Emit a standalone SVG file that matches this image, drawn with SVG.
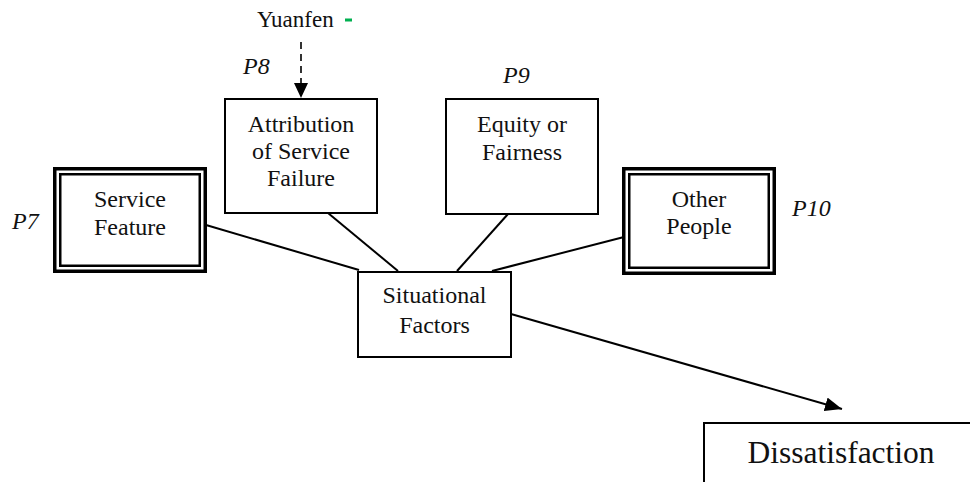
<svg xmlns="http://www.w3.org/2000/svg" width="970" height="482" viewBox="0 0 970 482">
  <style>
    .box { fill: #fff; stroke: #000; stroke-width: 2; }
    .outer { fill: #fff; stroke: #000; stroke-width: 3.5; }
    .inner { fill: none; stroke: #000; stroke-width: 2.5; }
    text { font-family: 'Liberation Serif', Tinos, 'Times New Roman', Times, 'DejaVu Serif', serif; fill: #111; }
    .lbl { font-size: 24px; text-anchor: middle; }
    .big { font-size: 31.5px; text-anchor: middle; }
    .prop { font-size: 24px; font-style: italic; }
    .mod { font-size: 23px; }
    .link { stroke: #000; stroke-width: 2; fill: none; }
    .dash { stroke: #000; stroke-width: 1.6; stroke-dasharray: 7 5; fill: none; }
  </style>
  <defs>
    <marker id="head" markerUnits="userSpaceOnUse" markerWidth="18" markerHeight="14" refX="17" refY="7" orient="auto">
      <polygon points="0,0 17,7 0,14" fill="#000"/>
    </marker>
  </defs>

  <!-- connectors -->
  <g id="connectors">
    <line class="dash" x1="301" y1="42" x2="301" y2="84"/>
    <polygon points="294,83 308,83 301,98" fill="#000"/>
    <line class="link" x1="206" y1="225" x2="359" y2="270"/>
    <line class="link" x1="328" y1="213" x2="398" y2="271"/>
    <line class="link" x1="508" y1="214" x2="457" y2="271"/>
    <line class="link" x1="624" y1="237" x2="492" y2="271"/>
    <line class="link" x1="511" y1="314" x2="842" y2="409" marker-end="url(#head)"/>
  </g>

  <!-- moderator label -->
  <g id="yuanfen">
    <text class="mod" x="257" y="27">Yuanfen</text>
    <rect x="345" y="18.5" width="7" height="3" fill="#00b050"/>
  </g>

  <g id="service-feature">
    <rect class="outer" x="54.75" y="168.75" width="150.5" height="102.5"/>
    <rect class="inner" x="60.25" y="174.25" width="139.5" height="91.5"/>
    <text class="lbl" x="130" y="207">Service</text>
    <text class="lbl" x="130" y="235">Feature</text>
  </g>

  <g id="attribution">
    <rect class="box" x="225" y="99" width="152" height="114"/>
    <text class="lbl" x="301" y="132">Attribution</text>
    <text class="lbl" x="301" y="159">of Service</text>
    <text class="lbl" x="301" y="186">Failure</text>
  </g>

  <g id="equity">
    <rect class="box" x="446" y="99" width="152" height="115"/>
    <text class="lbl" x="522" y="132">Equity or</text>
    <text class="lbl" x="522" y="160">Fairness</text>
  </g>

  <g id="other-people">
    <rect class="outer" x="623.75" y="168.75" width="150.5" height="104.5"/>
    <rect class="inner" x="629.25" y="174.25" width="139.5" height="93.5"/>
    <text class="lbl" x="699" y="207">Other</text>
    <text class="lbl" x="699" y="234">People</text>
  </g>

  <g id="situational">
    <rect class="box" x="358" y="272" width="153" height="85"/>
    <text class="lbl" x="434.5" y="303">Situational</text>
    <text class="lbl" x="434.5" y="333">Factors</text>
  </g>

  <g id="dissatisfaction">
    <rect class="box" x="704" y="423" width="300" height="100"/>
    <text class="big" x="841" y="463">Dissatisfaction</text>
  </g>

  <!-- proposition labels -->
  <g id="propositions">
    <text class="prop" x="12" y="229">P7</text>
    <text class="prop" x="243" y="74">P8</text>
    <text class="prop" x="503" y="83">P9</text>
    <text class="prop" x="792" y="216">P10</text>
  </g>
</svg>
